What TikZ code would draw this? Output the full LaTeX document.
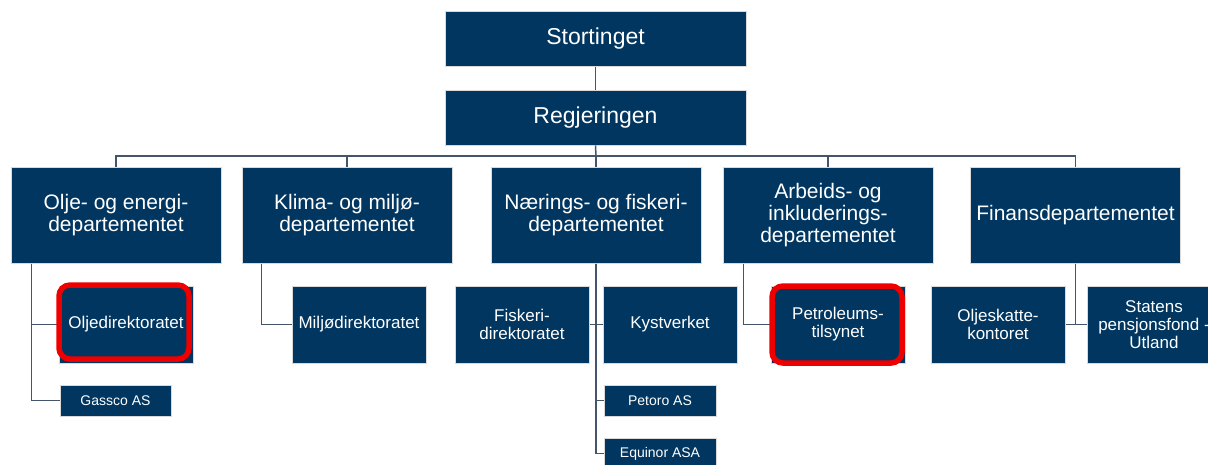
\documentclass[tikz,border=0pt]{standalone}
\usepackage{fontspec}
\setmainfont{Liberation Sans}
\definecolor{navyk}{RGB}{0, 54, 96}
\definecolor{slatek}{RGB}{68, 84, 106}
\definecolor{redk}{RGB}{238, 0, 0}
\usetikzlibrary{positioning}
\tikzset{
    orgbox/.style={draw=gray!30,line width=1pt,fill=navyk,text=white,align=center,inner sep=1pt},
    stortbox/.style={orgbox,minimum width=301pt,minimum height=55pt,font=\fontsize{23}{26}\selectfont},
    deptbox/.style={orgbox,minimum width=210pt,minimum height=96pt,font=\fontsize{21}{22}\selectfont},
    subbox/.style={orgbox,minimum width=134pt,minimum height=77pt,font=\fontsize{17}{18}\selectfont},
    smallbox/.style={orgbox,minimum width=111pt,minimum height=31pt,font=\fontsize{14}{16}\selectfont},
    link/.style={draw=slatek,line width=1.5pt},
    hilite/.style={draw=redk,line width=5.5pt,rounded corners=11pt}
}
\begin{document}
\begin{tikzpicture}[x=1pt,y=-1pt]
    \useasboundingbox (0,0) rectangle (1208,464);
    \node[stortbox] (stort) at (595.5,38.5) {Stortinget};
    \node[stortbox,below=23pt of stort] (regj) {Regjeringen};
    \node[deptbox] (olje) at (116,215) {Olje- og energi-\\departementet};
    \node[deptbox] (klima) at (347,215) {Klima- og miljø-\\departementet};
    \node[deptbox] (naer) at (596,215) {Nærings- og fiskeri-\\departementet};
    \node[deptbox] (arb) at (828,215) {Arbeids- og\\inkluderings-\\departementet};
    \node[deptbox] (fin) at (1075.5,215) {Finansdepartementet};
    \node[subbox] (oljedir) at (126,324.5) {Oljedirektoratet};
    \node[subbox] (miljo) at (359,324.5) {Miljødirektoratet};
    \node[subbox] (fiskeri) at (522,324.5) {Fiskeri-\\direktoratet};
    \node[subbox] (kyst) at (670,324.5) {Kystverket};
    \node[subbox] (petro) at (838,324.5) {Petroleums-\\tilsynet};
    \node[subbox] (skatt) at (998,324.5) {Oljeskatte-\\kontoret};
    \node[subbox] (spu) at (1154,324.5) {Statens\\pensjonsfond -\\Utland};
    \node[smallbox] (gassco) at (115.5,400.5) {Gassco AS};
    \node[smallbox,minimum width=112pt] (petoro) at (660,400.5) {Petoro AS};
    \node[smallbox,minimum width=112pt] (equinor) at (660,453.5) {Equinor ASA};
    \coordinate (bus) at (596,156);
    \draw[link] (stort) -- (regj);
    \draw[link] (regj.south) -- (bus);
    \foreach \d in {olje,klima,naer,arb,fin}
        \draw[link] (bus) -| (\d.north);
    \draw[link] ([xshift=21pt]olje.south west) |- (oljedir.west);
    \draw[link] ([xshift=21pt]olje.south west) |- (gassco.west);
    \draw[link] ([xshift=20pt]klima.south west) |- (miljo.west);
    \draw[link] (naer.south) |- (fiskeri.east);
    \draw[link] (naer.south) |- (kyst.west);
    \draw[link] (naer.south) |- (petoro.west);
    \draw[link] (naer.south) |- (equinor.west);
    \draw[link] ([xshift=21pt]arb.south west) |- (petro.west);
    \draw[link] (fin.south) |- (skatt.east);
    \draw[link] (fin.south) |- (spu.west);
    \draw[hilite] (59,285) rectangle (189,359);
    \draw[hilite] (772,286) rectangle (902,363);
\end{tikzpicture}
\end{document}
